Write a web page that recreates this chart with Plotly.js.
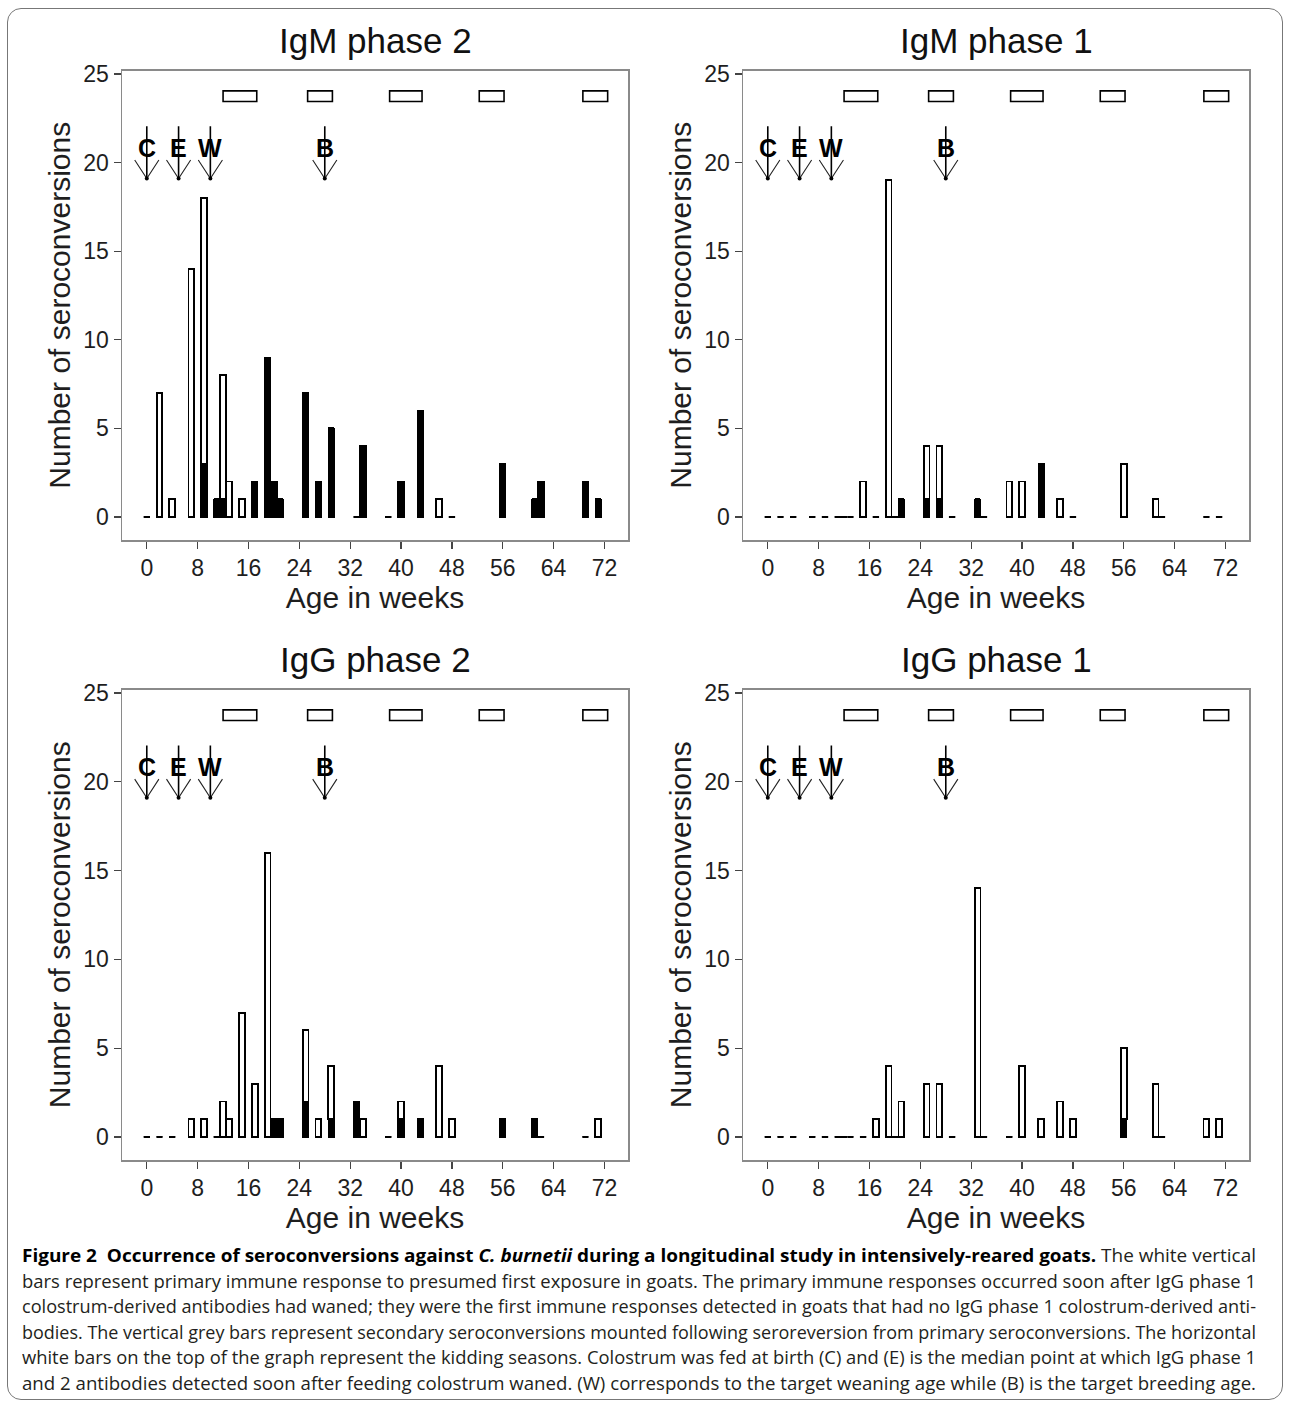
<!DOCTYPE html>
<html>
<head>
<meta charset="utf-8">
<script src="https://cdn.plot.ly/plotly-3.0.1.min.js"></script>
<style>
html,body{margin:0;padding:0;background:#fff;}
#wrap{position:relative;width:1292px;height:1410px;overflow:hidden;background:#fff;}
#chart{position:absolute;left:0;top:0;width:1292px;height:1410px;}
#frame{position:absolute;left:7px;top:8px;width:1276px;height:1392px;border:1.5px solid #777;border-radius:14px;pointer-events:none;box-sizing:border-box;}
#caption{position:absolute;left:22px;top:1243px;font-family:'Open Sans','Noto Sans',sans-serif;font-size:17.5px;color:#231f20;line-height:25.6px;}
#caption div{white-space:nowrap;transform-origin:0 50%;display:block;width:max-content;}
#caption b{font-weight:700;color:#000;}
</style>
</head>
<body>
<div id="wrap">
  <div id="chart"></div>
  <div id="frame"></div>
  <div id="caption">
    <div><b>Figure 2&nbsp; Occurrence of seroconversions against <i>C. burnetii</i> during a longitudinal study in intensively-reared goats.</b> The white vertical</div>
    <div>bars represent primary immune response to presumed first exposure in goats. The primary immune responses occurred soon after IgG phase 1</div>
    <div>colostrum-derived antibodies had waned; they were the first immune responses detected in goats that had no IgG phase 1 colostrum-derived anti-</div>
    <div>bodies. The vertical grey bars represent secondary seroconversions mounted following seroreversion from primary seroconversions. The horizontal</div>
    <div>white bars on the top of the graph represent the kidding seasons. Colostrum was fed at birth (C) and (E) is the median point at which IgG phase 1</div>
    <div>and 2 antibodies detected soon after feeding colostrum waned. (W) corresponds to the target weaning age while (B) is the target breeding age.</div>
  </div>
</div>
<script>
// ---------------- DATA ----------------
const weeks = [0, 2, 4, 7, 9, 11, 12, 13, 15, 17, 19, 20, 21, 25, 27, 29, 33, 34, 38, 40, 43, 46, 48, 56, 61, 62, 69, 71];

const panelTitles = ['IgM phase 2', 'IgM phase 1', 'IgG phase 2', 'IgG phase 1'];

// primary (white) and secondary (black) seroconversions per sampling week
const primaryIgMph2   = [0, 7, 1, 14, 15, 0, 7, 2, 1, 0, 0, 0, 0, 0, 0, 0, 0, 0, 0, 0, 0, 1, 0, 0, 0, 0, 0, 0];
const secondaryIgMph2 = [0, 0, 0, 0, 3, 1, 1, 0, 0, 2, 9, 2, 1, 7, 2, 5, 0, 4, 0, 2, 6, 0, 0, 3, 1, 2, 2, 1];

const primaryIgMph1   = [0, 0, 0, 0, 0, 0, 0, 0, 2, 0, 19, 0, 0, 3, 3, 0, 0, 0, 2, 2, 0, 1, 0, 3, 1, 0, 0, 0];
const secondaryIgMph1 = [0, 0, 0, 0, 0, 0, 0, 0, 0, 0, 0, 0, 1, 1, 1, 0, 1, 0, 0, 0, 3, 0, 0, 0, 0, 0, 0, 0];

const primaryIgGph2   = [0, 0, 0, 1, 1, 0, 2, 1, 7, 3, 16, 0, 0, 4, 1, 3, 0, 1, 0, 1, 0, 4, 1, 0, 0, 0, 0, 1];
const secondaryIgGph2 = [0, 0, 0, 0, 0, 0, 0, 0, 0, 0, 0, 1, 1, 2, 0, 1, 2, 0, 0, 1, 1, 0, 0, 1, 1, 0, 0, 0];

const primaryIgGph1   = [0, 0, 0, 0, 0, 0, 0, 0, 0, 1, 4, 0, 2, 3, 3, 0, 14, 0, 0, 4, 1, 2, 1, 4, 3, 0, 1, 1];
const secondaryIgGph1 = [0, 0, 0, 0, 0, 0, 0, 0, 0, 0, 0, 0, 0, 0, 0, 0, 0, 0, 0, 0, 0, 0, 0, 1, 0, 0, 0, 0];

const xTickVals = [0, 8, 16, 24, 32, 40, 48, 56, 64, 72];
const yTickVals = [0, 5, 10, 15, 20, 25];

// kidding seasons (weeks of age)
const kiddingStart = [12, 25.3, 38.2, 52.3, 68.6];
const kiddingEnd   = [17.3, 29.2, 43.3, 56.2, 72.5];

// events: colostrum, end of colostral antibodies, weaning, breeding
const eventLabels = ['C', 'E', 'W', 'B'];
const eventWeeks  = [0, 5, 10, 28];

// ---------------- BUILD ----------------
const primaries   = [primaryIgMph2, primaryIgMph1, primaryIgGph2, primaryIgGph1];
const secondaries = [secondaryIgMph2, secondaryIgMph1, secondaryIgGph2, secondaryIgGph1];

const W = 1292, H = 1410;
const xDomains = [[122 / W, 628 / W], [743 / W, 1249 / W]];
const yDomains = [[1 - 540 / H, 1 - 70.5 / H], [1 - 1160 / H, 1 - 689.5 / H]];

// arrow geometry (style, in axis units)
const TIP = 19.1, TAIL = 22.05, ARM_DX = 1.9, ARM_DY = 1.05;

const FONT = 'Liberation Sans';
const traces = [];
const layout = {
  width: W, height: H,
  margin: {l: 0, r: 0, t: 0, b: 0},
  paper_bgcolor: '#fff', plot_bgcolor: '#fff',
  showlegend: false,
  barmode: 'stack',
  font: {family: FONT, color: '#1a1a1a'},
  annotations: [], shapes: []
};

for (let p = 0; p < 4; p++) {
  const col = p % 2, row = Math.floor(p / 2);
  const sfx = p === 0 ? '' : String(p + 1);
  const xa = 'x' + sfx, ya = 'y' + sfx;

  traces.push({
    type: 'bar', x: weeks, y: secondaries[p], xaxis: xa, yaxis: ya, width: 0.9,
    marker: {color: '#000', line: {color: '#000', width: 1.5}}, hoverinfo: 'skip'
  });
  traces.push({
    type: 'bar', x: weeks, y: primaries[p], xaxis: xa, yaxis: ya, width: 0.9,
    marker: {color: '#fff', line: {color: '#000', width: 1.8}}, hoverinfo: 'skip'
  });
  // zero counts drawn as short dashes on the baseline
  const zx = weeks.filter((w, i) => primaries[p][i] + secondaries[p][i] === 0);
  traces.push({
    type: 'scatter', mode: 'markers', x: zx, y: zx.map(() => 0), xaxis: xa, yaxis: ya,
    marker: {symbol: 'line-ew-open', size: 4.6, color: '#000', line: {color: '#000', width: 1.8}}, hoverinfo: 'skip'
  });

  // event arrows: shafts
  const sx = [], sy = [], hx = [], hy = [];
  eventWeeks.forEach(w => {
    sx.push(w, w, null); sy.push(TAIL, TIP, null);
    hx.push(w - ARM_DX, w, w + ARM_DX, null); hy.push(TIP + ARM_DY, TIP, TIP + ARM_DY, null);
  });
  traces.push({
    type: 'scatter', mode: 'lines', x: sx, y: sy, xaxis: xa, yaxis: ya,
    line: {color: '#000', width: 1.6}, hoverinfo: 'skip'
  });
  traces.push({
    type: 'scatter', mode: 'lines', x: hx, y: hy, xaxis: xa, yaxis: ya,
    line: {color: '#222', width: 1.1}, hoverinfo: 'skip'
  });
  // dots at arrow tips
  traces.push({
    type: 'scatter', mode: 'markers', x: eventWeeks, y: eventWeeks.map(() => TIP), xaxis: xa, yaxis: ya,
    marker: {symbol: 'circle', size: 4, color: '#000'}, hoverinfo: 'skip'
  });

  const axBase = {
    showgrid: false, zeroline: false, showline: true, mirror: true,
    linecolor: '#8a8a8a', linewidth: 1.5,
    ticks: 'outside', ticklen: 7, tickwidth: 1.3, tickcolor: '#444',
    tickfont: {family: FONT, size: 23, color: '#1e1e1e'},
    fixedrange: true
  };
  layout['xaxis' + sfx] = Object.assign({}, axBase, {
    domain: xDomains[col], anchor: ya, range: [-3.9, 75.7],
    tickmode: 'array', tickvals: xTickVals, ticktext: xTickVals.map(String),
    title: {text: 'Age in weeks', font: {family: FONT, size: 30, color: '#1e1e1e'}, standoff: 6}
  });
  layout['yaxis' + sfx] = Object.assign({}, axBase, {
    domain: yDomains[row], anchor: xa, range: [-1.3, 25.2],
    tickmode: 'array', tickvals: yTickVals, ticktext: yTickVals.map(String),
    title: {text: 'Number of seroconversions', font: {family: FONT, size: 30, color: '#1e1e1e'}, standoff: 4}
  });

  // panel title
  layout.annotations.push({
    xref: 'paper', yref: 'paper',
    x: (xDomains[col][0] + xDomains[col][1]) / 2,
    y: yDomains[row][1] + 30 / H,
    yanchor: 'middle', xanchor: 'center', showarrow: false,
    text: panelTitles[p], font: {family: FONT, size: 35, color: '#111'}
  });

  // kidding seasons
  for (let k = 0; k < kiddingStart.length; k++) {
    layout.shapes.push({
      type: 'rect', xref: xa, yref: ya,
      x0: kiddingStart[k], x1: kiddingEnd[k], y0: 23.45, y1: 24.05,
      line: {color: '#000', width: 1.6}, fillcolor: '#fff'
    });
  }

  // event letters
  for (let e = 0; e < eventWeeks.length; e++) {
    layout.annotations.push({
      xref: xa, yref: ya, x: eventWeeks[e], y: 20.85,
      xanchor: 'center', yanchor: 'middle', showarrow: false,
      text: '<b>' + eventLabels[e] + '</b>', font: {family: FONT, size: 25, color: '#000'}
    });
  }
}

Plotly.newPlot('chart', traces, layout, {staticPlot: true, displayModeBar: false});

// fit caption lines to the text block width
const TARGET = 1234;
document.querySelectorAll('#caption div').forEach(d => {
  const w = d.getBoundingClientRect().width;
  if (w > 0) d.style.transform = 'scaleX(' + (TARGET / w) + ')';
});
</script>
</body>
</html>
